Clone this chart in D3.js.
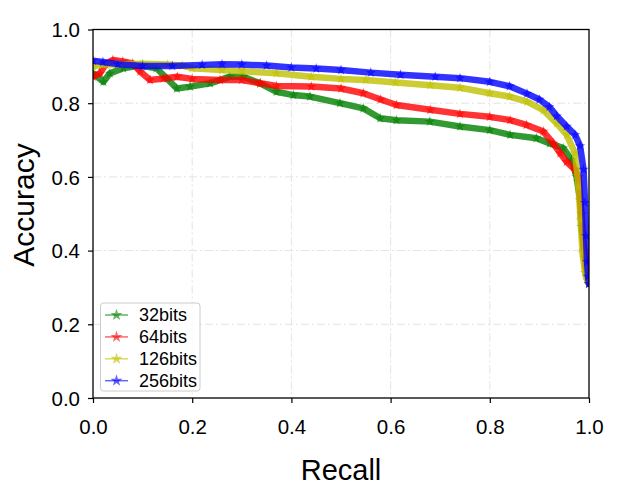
<!DOCTYPE html>
<html><head><meta charset="utf-8">
<script src="https://cdn.jsdelivr.net/npm/d3@7"></script>
<style>body{margin:0;background:#fff;}svg{display:block;font-family:"Liberation Sans",Arial,sans-serif;}</style>
</head><body>
<svg id="chart" width="620" height="502"></svg>
<script>
const seriesNames = ["32bits", "64bits", "126bits", "256bits"];
const seriesColors = ["#008000", "#ff0000", "#bfbf00", "#0000ff"];
const xTicks = [0.0, 0.2, 0.4, 0.6, 0.8, 1.0];
const yTicks = [0.0, 0.2, 0.4, 0.6, 0.8, 1.0];

const recall32 = [0, 0.021, 0.034, 0.061, 0.095, 0.128, 0.149, 0.169, 0.196, 0.236, 0.276, 0.303, 0.337, 0.37, 0.404, 0.4375, 0.498, 0.545, 0.579, 0.612, 0.679, 0.74, 0.8, 0.841, 0.894, 0.921, 0.948, 0.965, 0.975, 0.982, 0.985, 0.99, 0.995, 1.0];
const acc32 = [0.881, 0.858, 0.881, 0.895, 0.902, 0.895, 0.867, 0.840, 0.845, 0.854, 0.872, 0.872, 0.854, 0.831, 0.822, 0.818, 0.800, 0.786, 0.759, 0.754, 0.750, 0.737, 0.727, 0.714, 0.705, 0.691, 0.678, 0.646, 0.600, 0.537, 0.465, 0.400, 0.340, 0.310];

const recall64 = [0, 0.014, 0.025, 0.04, 0.06, 0.08, 0.095, 0.115, 0.142, 0.17, 0.2, 0.256, 0.3, 0.337, 0.37, 0.44, 0.5, 0.545, 0.58, 0.612, 0.68, 0.74, 0.8, 0.841, 0.874, 0.908, 0.928, 0.942, 0.955, 0.972, 0.979, 0.985, 0.99, 0.995, 1.0];
const acc64 = [0.872, 0.881, 0.905, 0.917, 0.913, 0.908, 0.886, 0.863, 0.867, 0.872, 0.866, 0.863, 0.863, 0.854, 0.847, 0.845, 0.840, 0.827, 0.810, 0.795, 0.782, 0.771, 0.763, 0.754, 0.741, 0.723, 0.691, 0.664, 0.641, 0.619, 0.600, 0.500, 0.400, 0.340, 0.310];

const recall126 = [0, 0.02, 0.05, 0.1, 0.15, 0.18, 0.2, 0.26, 0.3, 0.37, 0.44, 0.5, 0.55, 0.61, 0.68, 0.74, 0.8, 0.84, 0.875, 0.908, 0.935, 0.955, 0.972, 0.979, 0.983, 0.987, 0.992, 0.996, 1.0];
const acc126 = [0.900, 0.905, 0.905, 0.907, 0.905, 0.902, 0.895, 0.890, 0.887, 0.881, 0.872, 0.866, 0.863, 0.856, 0.849, 0.842, 0.827, 0.818, 0.804, 0.781, 0.745, 0.714, 0.664, 0.573, 0.483, 0.393, 0.340, 0.320, 0.310];

const recall256 = [0, 0.02, 0.05, 0.1, 0.16, 0.22, 0.26, 0.3, 0.35, 0.4, 0.45, 0.5, 0.56, 0.62, 0.69, 0.74, 0.8, 0.84, 0.875, 0.9, 0.92, 0.935, 0.955, 0.972, 0.982, 0.989, 0.992, 0.994, 0.996, 0.998, 1.0];
const acc256 = [0.915, 0.912, 0.906, 0.901, 0.901, 0.904, 0.906, 0.905, 0.902, 0.897, 0.894, 0.890, 0.883, 0.877, 0.872, 0.868, 0.858, 0.846, 0.826, 0.810, 0.790, 0.765, 0.737, 0.714, 0.684, 0.620, 0.530, 0.440, 0.370, 0.330, 0.310];

const recalls = [recall32, recall64, recall126, recall256];
const accs = [acc32, acc64, acc126, acc256];

const svg = d3.select("#chart");
const L = 93, R = 589, T = 29.5, B = 398;
const x = d3.scaleLinear().domain([0, 1]).range([L, R]);
const y = d3.scaleLinear().domain([0, 1]).range([B, T]);

// grid
const grid = svg.append("g");
grid.selectAll("line.gx").data(xTicks.slice(1, -1)).enter().append("line")
  .attr("x1", d => x(d)).attr("x2", d => x(d)).attr("y1", T).attr("y2", B)
  .attr("stroke", "#e3e3e3").attr("stroke-width", 1).attr("stroke-dasharray", "8,3,2,3");
grid.selectAll("line.gy").data(yTicks.slice(1, -1)).enter().append("line")
  .attr("y1", d => y(d)).attr("y2", d => y(d)).attr("x1", L).attr("x2", R)
  .attr("stroke", "#e3e3e3").attr("stroke-width", 1).attr("stroke-dasharray", "8,3,2,3");

svg.append("clipPath").attr("id", "clip").append("rect")
  .attr("x", L).attr("y", T).attr("width", R - L).attr("height", B - T);

const plot = svg.append("g").attr("clip-path", "url(#clip)");
const line = d3.line().x(d => x(d[0])).y(d => y(d[1]));
const star = d3.symbol().type(d3.symbolStar).size(34);

seriesNames.forEach((name, i) => {
  const pts = recalls[i].map((r, j) => [r, accs[i][j]]);
  const g = plot.append("g");
  g.append("path").datum(pts).attr("d", line)
    .attr("fill", "none").attr("stroke", seriesColors[i])
    .attr("stroke-width", 6.5).attr("stroke-opacity", 0.8)
    .attr("stroke-linejoin", "round").attr("stroke-linecap", "round");
  g.selectAll("path.pt").data(pts).enter().append("path")
    .attr("d", star).attr("transform", d => `translate(${x(d[0])},${y(d[1])})`)
    .attr("fill", seriesColors[i]).attr("fill-opacity", 0.6);
});

// axes
const xAxis = d3.axisBottom(x).tickValues(xTicks).tickFormat(d3.format(".1f")).tickSize(5).tickPadding(16);
const yAxis = d3.axisLeft(y).tickValues(yTicks).tickFormat(d3.format(".1f")).tickSize(5).tickPadding(8);
const gx = svg.append("g").attr("transform", `translate(0,${B})`).call(xAxis);
const gy = svg.append("g").attr("transform", `translate(${L},0)`).call(yAxis);
[gx, gy].forEach(g => {
  g.select(".domain").remove();
  g.selectAll("text").attr("font-size", 20.5).attr("fill", "#000").attr("font-family", "Liberation Sans, Arial, sans-serif");
  g.selectAll("line").attr("stroke", "#000").attr("stroke-width", 1.2);
});
gy.selectAll("text").attr("dy", "0.36em");

svg.append("rect").attr("x", L).attr("y", T).attr("width", R - L).attr("height", B - T)
  .attr("fill", "none").attr("stroke", "#000").attr("stroke-width", 1.3);

svg.append("text").attr("x", (L + R) / 2).attr("y", 480).attr("text-anchor", "middle")
  .attr("font-size", 29).text("Recall");
svg.append("text").attr("transform", `translate(34,205) rotate(-90)`).attr("text-anchor", "middle")
  .attr("font-size", 30).text("Accuracy");

// legend
const lg = svg.append("g");
lg.append("rect").attr("x", 100.5).attr("y", 303).attr("width", 99.5).attr("height", 88).attr("rx", 3)
  .attr("fill", "#fff").attr("fill-opacity", 0.8).attr("stroke", "#cccccc").attr("stroke-width", 1);
const legStar = d3.symbol().type(d3.symbolStar).size(45);
seriesNames.forEach((name, i) => {
  const yy = 315 + i * 21.9;
  lg.append("line").attr("x1", 105).attr("x2", 128).attr("y1", yy).attr("y2", yy)
    .attr("stroke", seriesColors[i]).attr("stroke-opacity", 0.6).attr("stroke-width", 1.5);
  lg.append("path").attr("d", legStar).attr("transform", `translate(116.5,${yy})`)
    .attr("fill", seriesColors[i]).attr("fill-opacity", 0.6);
  lg.append("text").attr("x", 139).attr("y", yy).attr("dy", "0.36em").attr("font-size", 18).text(name);
});
</script>
</body></html>
